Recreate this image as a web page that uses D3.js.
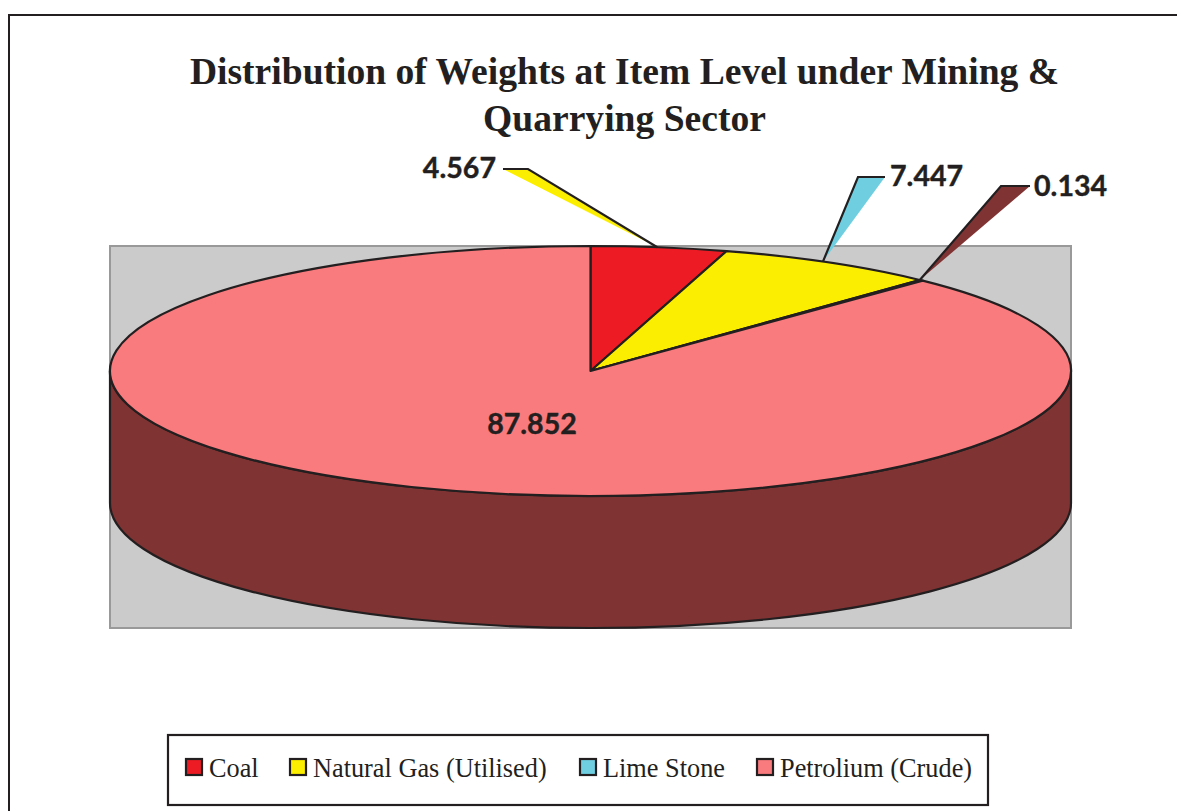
<!DOCTYPE html>
<html>
<head>
<meta charset="utf-8">
<script src="https://cdn.jsdelivr.net/npm/d3@7"></script>
<style>
	html, body { margin: 0; padding: 0; background: #fff; overflow: hidden; }
	svg { display: block; }
</style>
</head>
<body>
<div id="chart"></div>
<script>
"use strict";

var titleLines = ["Distribution of Weights at Item Level under Mining &", "Quarrying Sector"];
var categories = ["Coal", "Natural Gas (Utilised)", "Lime Stone", "Petrolium (Crude)"];
var weights = [4.567, 7.447, 0.134, 87.852];
var colors = ["#ed1c24", "#fcee00", "#6fcfe0", "#f97b7d"];

var width = 1177, height = 811;
var ink = "#231f20", wallColor = "#803333";

// pie is an ellipse: squashed circle plus a wall below it
var cx = 590.5, cy = 371, rx = 480.5, ry = 125, depth = 132;

var svg = d3.select("#chart").append("svg")
	.attr("width", width)
	.attr("height", height);

// outer frame runs off the page on the right and bottom
svg.append("rect")
	.attr("x", 9).attr("y", 15)
	.attr("width", width + 20).attr("height", height + 20)
	.attr("fill", "#fff")
	.attr("stroke", ink).attr("stroke-width", 2);

// title
svg.append("g").selectAll("text")
	.data(titleLines)
	.enter().append("text")
	.attr("x", 624.5)
	.attr("y", function (d, i) { return 84 + i * 47; })
	.attr("text-anchor", "middle")
	.attr("font-family", "'Liberation Serif', serif")
	.attr("font-weight", "bold")
	.attr("font-size", 37.6)
	.attr("fill", ink)
	.text(function (d) { return d; });

// plot area
svg.append("rect")
	.attr("x", cx - rx).attr("y", cy - ry)
	.attr("width", rx * 2).attr("height", ry + ry + depth)
	.attr("fill", "#cbcbcb")
	.attr("stroke", "#999").attr("stroke-width", 2);

var slices = d3.pie().sort(null).value(function (d) { return d; })(weights);

function px(a) { return cx + rx * Math.sin(a); }
function py(a) { return cy - ry * Math.cos(a); }

// wall, only the front half of the ellipse can be seen
slices.forEach(function (s) {
	var a0 = Math.max(s.startAngle, Math.PI / 2),
		a1 = Math.min(s.endAngle, Math.PI * 3 / 2);
	if (a1 <= a0) return;
	var sweep = "A" + rx + "," + ry + " 0 0 ";
	svg.append("path")
		.attr("d", "M" + px(a0) + "," + py(a0)
			+ sweep + "1 " + px(a1) + "," + py(a1)
			+ "L" + px(a1) + "," + (py(a1) + depth)
			+ sweep + "0 " + px(a0) + "," + (py(a0) + depth) + "Z")
		.attr("fill", wallColor)
		.attr("stroke", ink).attr("stroke-width", 2.2);
});

// top of the pie, drawn as a circle and squashed
var arc = d3.arc().innerRadius(0).outerRadius(rx);

svg.append("g")
	.attr("transform", "translate(" + cx + "," + cy + ") scale(1," + (ry / rx) + ")")
	.selectAll("path")
	.data(slices)
	.enter().append("path")
	.attr("d", arc)
	.attr("fill", function (d, i) { return colors[i]; })
	.attr("stroke", ink)
	.attr("stroke-width", 2.2)
	.attr("stroke-linejoin", "round")
	.attr("vector-effect", "non-scaling-stroke");

// leader wedges, tuned by eye. near = elbow, far = tip by the label, nudge = angle shift at the root
var leaders = [
	{ near: [528, 169], far: [503, 169], nudge: -0.004 },
	{ near: [858, 177], far: [885, 177], nudge: -0.016 },
	{ near: [1001, 186], far: [1030, 186], nudge: -0.004 }
];

leaders.forEach(function (l, i) {
	var s = slices[i],
		mid = (s.startAngle + s.endAngle) / 2 + l.nudge,
		root = [px(mid), py(mid)];

	svg.append("path")
		.attr("d", d3.line()([root, l.near, l.far]) + "Z")
		.attr("fill", i == 2 ? wallColor : colors[i + 1]); // next colour in the series

	svg.append("path")
		.attr("d", d3.line()([root, l.near, l.far]))
		.attr("fill", "none")
		.attr("stroke", ink).attr("stroke-width", 2.2);
});

// value labels
var labelSpots = [
	{ x: 496, y: 178, anchor: "end" },
	{ x: 890, y: 186, anchor: "start" },
	{ x: 1034, y: 196, anchor: "start" },
	{ x: 532, y: 434, anchor: "middle" }
];

svg.append("g").selectAll("text")
	.data(weights)
	.enter().append("text")
	.attr("x", function (d, i) { return labelSpots[i].x; })
	.attr("y", function (d, i) { return labelSpots[i].y; })
	.attr("text-anchor", function (d, i) { return labelSpots[i].anchor; })
	.attr("font-family", "Lato, sans-serif")
	.attr("font-weight", "bold")
	.attr("font-size", 28.6)
	.attr("fill", ink)
	.attr("stroke", ink).attr("stroke-width", 0.4)
	.text(function (d) { return d3.format(".3f")(d); });

// legend
svg.append("rect")
	.attr("x", 168).attr("y", 735)
	.attr("width", 820).attr("height", 70)
	.attr("fill", "#fff")
	.attr("stroke", ink).attr("stroke-width", 2.2);

var legendX = [186, 290, 580, 757];

var item = svg.append("g").selectAll("g")
	.data(categories)
	.enter().append("g")
	.attr("transform", function (d, i) { return "translate(" + legendX[i] + ",759)"; });

item.append("rect")
	.attr("width", 16).attr("height", 16)
	.attr("fill", function (d, i) { return colors[i]; })
	.attr("stroke", ink).attr("stroke-width", 2.2);

item.append("text")
	.attr("x", 23)
	.attr("y", 17.5)
	.attr("font-family", "'Liberation Serif', serif")
	.attr("font-size", 26.3)
	.attr("fill", ink)
	.text(function (d) { return d; });
</script>
</body>
</html>
